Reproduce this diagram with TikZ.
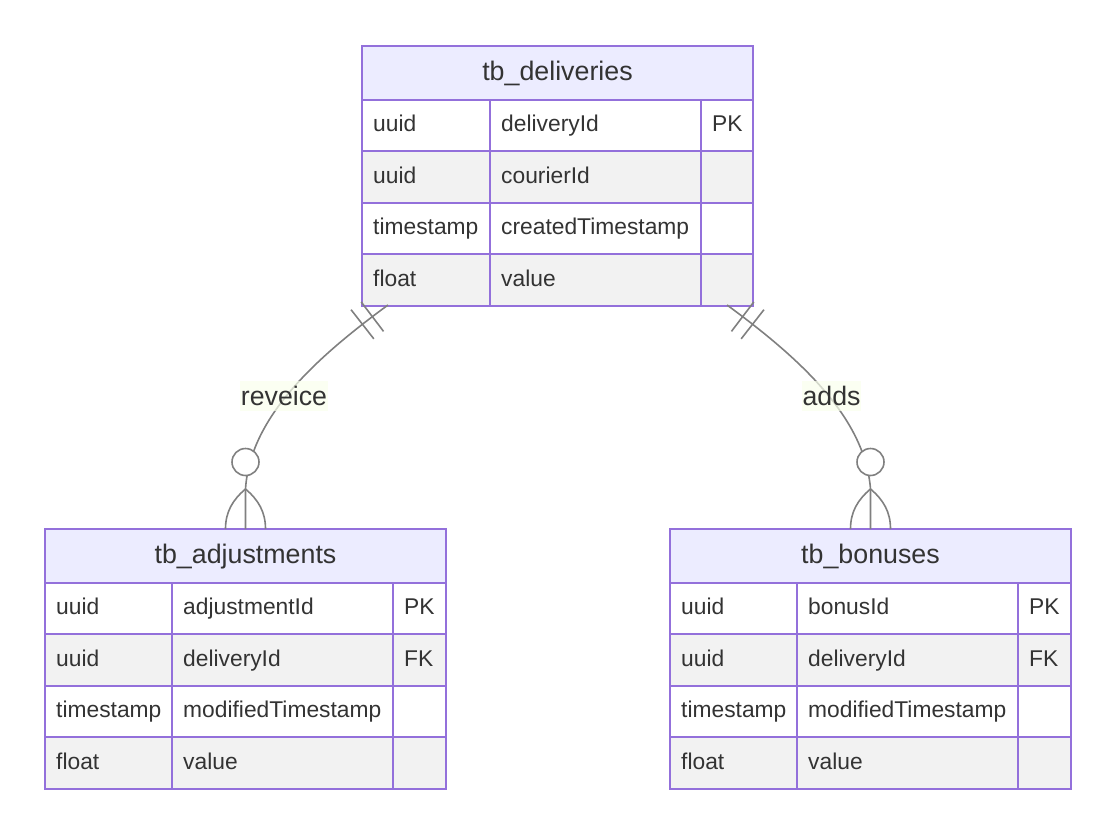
\documentclass[tikz,border=0pt]{standalone}
\usepackage{fontspec}
\setmainfont{Liberation Sans}
\usetikzlibrary{decorations.markings}

\definecolor{erborder}{HTML}{9370DB}
\definecolor{erhead}{HTML}{ECECFF}
\definecolor{errow}{HTML}{F2F2F2}
\definecolor{ertext}{HTML}{333333}
\definecolor{erline}{HTML}{808080}
\definecolor{erlabel}{RGB}{249,255,236}

% #1 名前, #2 左端, #3 #4 列の境, #5 右端, #6 上端, #7 表題, #8 行
\newcommand{\ertable}[8]{
  \draw[tbl, fill=erhead] (#2,#6) rectangle (#5,#6+53.5);
  \node[headtext] (#1-h) at ({(#2+#5)/2},#6+34.25) {#7};
  \foreach \ty/\nm/\ky/\cl [count=\i] in {#8} {
    \pgfmathsetmacro{\ya}{#6+53.5+(\i-1)*51.5}
    \pgfmathsetmacro{\yb}{\ya+51.5}
    \pgfmathsetmacro{\yc}{\ya+32.05}
    \draw[tbl, fill=\cl] (#2,\ya) rectangle (#5,\yb);
    \draw[tbl] (#3,\ya) -- (#3,\yb) (#4,\ya) -- (#4,\yb);
    \node[celltext] (#1-\i-a) at (#2+11,\yc) {\ty};
    \node[celltext] (#1-\i-b) at (#3+11,\yc) {\nm};
    \node[celltext] (#1-\i-c) at (#4+11,\yc) {\ky};
  }
}

\begin{document}
\begin{tikzpicture}[x=1pt,y=-1pt,
  tbl/.style={draw=erborder, line width=2pt},
  headtext/.style={font=\fontsize{26.8}{32}\selectfont, text=ertext, inner sep=0pt, anchor=base},
  celltext/.style={font=\fontsize{22.8}{27}\selectfont, text=ertext, inner sep=0pt, anchor=base west},
  edge/.style={draw=erline, line width=1.6pt},
  bars/.style={postaction={decorate}, decoration={markings,
    mark=at position 19.5pt with {\draw[erline, line width=1.6pt] (0pt,-18.5pt) -- (0pt,18.5pt);},
    mark=at position 32pt with {\draw[erline, line width=1.6pt] (0pt,-18.5pt) -- (0pt,18.5pt);}}},
  rellabel/.style={font=\fontsize{26.7}{32}\selectfont, text=ertext, fill=erlabel, fill opacity=0.7, text opacity=1,
    inner xsep=1pt, inner ysep=0pt, text height=24.2pt, text depth=5.7pt}]
   \useasboundingbox (0,0) rectangle (1116,835);

   % テーブル
   \ertable{dlv}{362}{490}{701}{753}{46}{tb\_deliveries}
     {uuid/deliveryId/PK/white, uuid/courierId//errow, timestamp/createdTimestamp//white, float/value//errow}
   \ertable{adj}{45}{172}{393}{446}{529}{tb\_adjustments}
     {uuid/adjustmentId/PK/white, uuid/deliveryId/FK/errow, timestamp/modifiedTimestamp//white, float/value//errow}
   \ertable{bns}{670}{797}{1018}{1071}{529}{tb\_bonuses}
     {uuid/bonusId/PK/white, uuid/deliveryId/FK/errow, timestamp/modifiedTimestamp//white, float/value//errow}

   % 関係線の端
   \coordinate (dlv-l) at (388,305);
   \coordinate (dlv-r) at (727,305);
   \coordinate (adj-t) at (245.5,529);
   \coordinate (bns-t) at (870.5,529);

   % 関係線
   \draw[edge, bars] (dlv-l) .. controls (310,362) and (250,420) .. (245.5,489) -- (adj-t);
   \draw[edge, bars] (dlv-r) .. controls (805,362) and (865,420) .. (870.5,489) -- (bns-t);

   % 0以上 (丸と鳥の足)
   \draw[edge, fill=white] (adj-t) ++(0,-67) circle (13.5);
   \draw[edge] (adj-t) ++(0,-40) .. controls +(-13,11) and +(0,-17) .. ++(-20,40);
   \draw[edge] (adj-t) ++(0,-40) .. controls +(13,11) and +(0,-17) .. ++(20,40);
   \draw[edge, fill=white] (bns-t) ++(0,-67) circle (13.5);
   \draw[edge] (bns-t) ++(0,-40) .. controls +(-13,11) and +(0,-17) .. ++(-20,40);
   \draw[edge] (bns-t) ++(0,-40) .. controls +(13,11) and +(0,-17) .. ++(20,40);

   \node[rellabel] (rel-a) at (284,396) {reveice};
   \node[rellabel] (rel-b) at (831.5,396) {adds};
\end{tikzpicture}
\end{document}
